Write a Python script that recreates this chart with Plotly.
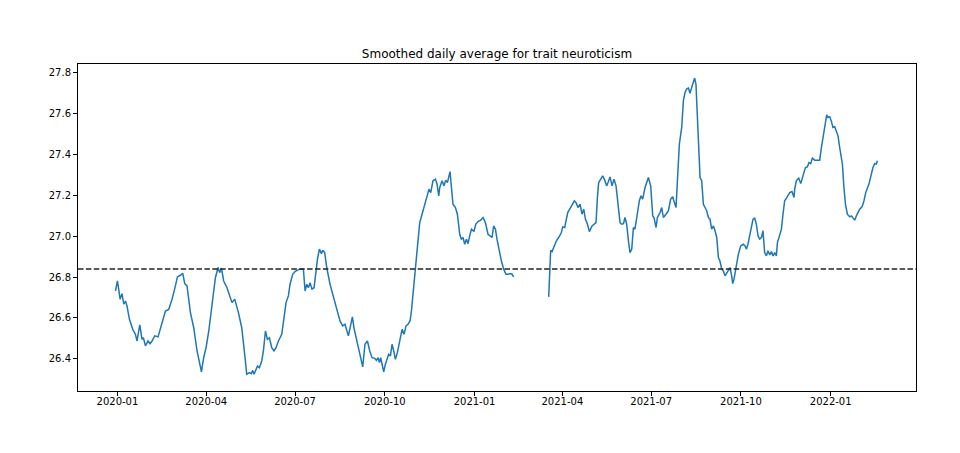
import pandas as pd
import plotly.graph_objects as go

# days since 2020-01-01
day_offset = [
    -2.0, 0.0, 1.3, 2.7, 4.7, 6.5, 8.2, 9.8, 12.3, 15.7, 18.4, 20.1, 22.9, 25.2, 26.6, 28.7,
    31.4, 33.4, 35.5, 38.2, 41.6, 45.7, 49.2, 52.6, 56.0, 59.4, 61.5, 64.6, 66.9, 69.0, 71.3,
    74.8, 78.2, 81.6, 84.0, 86.1, 88.4, 90.8, 93.6, 96.9, 100.4, 103.1, 104.8, 106.6, 108.9,
    112.3, 114.8, 117.4, 120.2, 122.6,
    124.0, 127.4, 129.1, 130.8, 132.5, 135.3, 137.3, 138.7, 140.0, 141.7, 143.5, 145.5, 147.9,
    149.6, 151.7, 153.7, 155.8, 158.1, 160.5, 162.5, 165.0, 168.4, 170.1, 172.8, 175.2, 176.9,
    179.6, 182.0, 184.5, 187.1, 190.6, 192.3, 194.0, 195.7, 197.4, 199.4, 201.5, 203.2, 205.0,
    207.0, 209.1, 210.4, 212.4, 214.5, 217.9, 222.0, 224.7, 228.1, 230.9, 233.2, 236.7, 238.4,
    240.8, 242.5, 245.2, 247.0, 249.3, 251.4, 253.7,
    256.2, 258.6, 260.9, 263.7, 265.4, 267.1, 268.5, 269.8, 271.2, 272.9, 274.6, 276.7, 278.0,
    279.8, 281.4, 283.2, 284.9, 286.9, 289.3, 291.7, 293.7, 295.8, 297.8, 299.9, 301.3, 302.9,
    304.7, 306.4, 308.1, 309.8, 312.2, 314.9, 317.7, 319.3, 321.1, 323.4, 325.9, 327.5, 329.3,
    330.3, 332.7, 334.7, 336.4, 338.2, 339.8, 340.9, 342.3, 343.9, 346.4, 348.4, 350.8, 352.5,
    354.2, 355.9, 357.7, 359.3, 361.0, 362.8, 365.4, 367.2, 369.5, 372.3, 374.7, 377.1, 379.8,
    382.3, 383.9, 385.6, 387.4, 389.0, 391.5, 393.5, 395.9, 398.2, 400.3, 402.7, 404.4, 406.1,
    424.0,
    442.0, 444.0, 445.4, 447.4, 449.9, 452.2, 455.0, 456.3, 458.4, 460.1, 461.5, 463.5, 465.9,
    468.3, 470.0, 472.0, 474.1, 476.1, 477.9, 479.6, 481.7, 483.7, 486.4, 489.1, 490.5, 491.9,
    493.2, 495.3, 497.3, 499.4, 501.4, 502.8, 504.8, 506.9, 508.9, 511.0, 513.0, 515.1, 516.8,
    518.6, 520.2, 521.9, 523.7, 525.3, 527.1, 528.8, 530.4, 532.2, 534.9, 536.6, 538.3, 540.7,
    544.2, 546.5, 548.6, 549.9, 552.0, 553.4, 556.1, 557.8, 559.5, 562.2, 564.7, 567.0, 569.1,
    570.8, 572.5, 573.9, 575.9, 578.3, 580.0, 581.7, 583.4, 585.2, 586.8, 588.5, 590.3, 591.6,
    592.9, 594.4, 595.7, 597.1, 598.8, 600.5, 602.2, 603.9, 605.7, 607.3, 609.0, 610.8, 612.4,
    614.2, 615.9, 617.5, 619.3, 621.0, 622.7, 624.4, 626.1, 627.8, 629.5, 630.6, 631.9, 633.9,
    636.4, 638.8, 641.5, 643.2, 644.6, 646.2, 648.0, 649.7, 651.4, 653.1, 654.8, 656.5, 658.2,
    660.0, 661.6, 663.3, 665.1, 666.7, 668.5, 670.2, 671.9, 673.6, 675.3, 676.4, 678.0, 680.5,
    682.1, 683.8, 685.6, 687.2, 689.0, 691.3, 693.4, 694.1, 695.8, 698.2, 700.3, 702.6, 705.1,
    707.1, 708.7, 710.5, 712.2, 714.6, 717.4, 719.7, 721.5, 723.1, 724.8, 726.9, 728.2, 730.0,
    731.7, 733.3, 735.1, 736.8, 738.5, 740.2, 742.0, 743.0, 744.3, 746.1, 748.1, 750.5, 752.2,
    753.8, 755.6, 757.3, 758.9, 760.7, 763.1, 765.1, 766.9, 768.6, 770.2, 772.0, 774.3, 776.1,
    777.8, 778.8,
]

neuroticism = [
    26.732, 26.781, 26.741, 26.692, 26.719, 26.667, 26.683, 26.659, 26.593, 26.544, 26.520, 26.487,
    26.566, 26.495, 26.503, 26.463, 26.487, 26.474, 26.487, 26.512, 26.507, 26.577, 26.634, 26.642,
    26.692, 26.757, 26.801, 26.809, 26.819, 26.768, 26.757, 26.626, 26.552, 26.438, 26.381, 26.336,
    26.405, 26.454, 26.536, 26.650, 26.797, 26.847, 26.822, 26.844, 26.781, 26.748, 26.716, 26.675,
    26.692, 26.650,
    26.626, 26.552, 26.487, 26.405, 26.324, 26.332, 26.327, 26.343, 26.324, 26.343, 26.364, 26.356,
    26.389, 26.438, 26.536, 26.495, 26.503, 26.454, 26.438, 26.454, 26.487, 26.520, 26.577, 26.675,
    26.708, 26.765, 26.814, 26.827, 26.834, 26.839, 26.839, 26.732, 26.765, 26.748, 26.773, 26.741,
    26.748, 26.830, 26.888, 26.937, 26.915, 26.932, 26.920, 26.847, 26.765, 26.692, 26.650, 26.585,
    26.561, 26.569, 26.512, 26.552, 26.605, 26.549, 26.495, 26.454, 26.414, 26.360, 26.471,
    26.487, 26.438, 26.405, 26.402, 26.392, 26.405, 26.381, 26.405, 26.373, 26.336, 26.373, 26.405,
    26.422, 26.414, 26.471, 26.438, 26.397, 26.430, 26.479, 26.544, 26.520, 26.561, 26.569, 26.585,
    26.634, 26.716, 26.830, 26.879, 26.978, 27.067, 27.108, 27.157, 27.206, 27.231, 27.214, 27.272,
    27.280, 27.256, 27.198, 27.239, 27.272, 27.247, 27.275, 27.263, 27.296, 27.317, 27.239, 27.157,
    27.141, 27.108, 27.010, 26.986, 26.994, 26.961, 26.986, 26.964, 27.002, 27.035, 27.023, 27.059,
    27.072, 27.079, 27.092, 27.067, 27.010, 27.002, 26.994, 27.051, 27.035, 26.986, 26.920, 26.879,
    26.839, 26.814, 26.814, 26.817, 26.814, 26.801,
    None,
    26.703, 26.932, 26.925, 26.953, 26.978, 26.994, 27.018, 27.046, 27.043, 27.084, 27.116, 27.133,
    27.154, 27.174, 27.165, 27.141, 27.157, 27.108, 27.133, 27.084, 27.059, 27.023, 27.051, 27.059,
    27.067, 27.190, 27.263, 27.280, 27.296, 27.275, 27.247, 27.263, 27.291, 27.247, 27.280, 27.247,
    27.157, 27.067, 27.059, 27.062, 27.092, 27.059, 26.978, 26.920, 26.937, 27.043, 27.035, 27.092,
    27.174, 27.198, 27.182, 27.239, 27.288, 27.247, 27.100, 27.092, 27.043, 27.092, 27.116, 27.141,
    27.092, 27.108, 27.125, 27.182, 27.194, 27.165, 27.141, 27.272, 27.452, 27.533, 27.664, 27.705,
    27.722, 27.726, 27.700, 27.729, 27.754, 27.775, 27.746, 27.582, 27.419, 27.288, 27.272, 27.157,
    27.141, 27.125, 27.092, 27.084, 27.035, 27.051, 27.027, 26.994, 26.896, 26.879, 26.839, 26.830,
    26.806, 26.822, 26.839, 26.847, 26.806, 26.768, 26.790, 26.847, 26.912, 26.953, 26.961, 26.953,
    26.937, 26.961, 27.010, 27.051, 27.084, 27.089, 27.059, 27.002, 26.986, 26.994, 27.027, 26.920,
    26.904, 26.929, 26.909, 26.925, 26.904, 26.920, 26.904, 26.969, 26.994, 27.035, 27.108, 27.174,
    27.187, 27.198, 27.214, 27.219, 27.190, 27.231, 27.272, 27.285, 27.258, 27.296, 27.337, 27.340,
    27.361, 27.356, 27.383, 27.373, 27.373, 27.373, 27.435, 27.484, 27.542, 27.595, 27.582, 27.586,
    27.563, 27.533, 27.537, 27.517, 27.492, 27.435, 27.378, 27.354, 27.256, 27.157, 27.108, 27.095,
    27.100, 27.092, 27.079, 27.100, 27.116, 27.133, 27.144, 27.174, 27.214, 27.236, 27.256, 27.291,
    27.337, 27.356, 27.354, 27.370,
]

overall_mean = 26.84

dates = pd.Timestamp("2020-01-01") + pd.to_timedelta(day_offset, unit="D")

fig = go.Figure()
fig.add_trace(go.Scatter(x=dates, y=neuroticism, mode="lines",
                         line=dict(color="#1f77b4", width=1.5), connectgaps=False))

# horizontal dashed line for the overall mean
fig.add_shape(type="line", xref="paper", x0=0, x1=1, yref="y", y0=overall_mean, y1=overall_mean,
              line=dict(color="#222222", width=1.5, dash="5.5px,2.4px"))

axis_style = dict(showgrid=False, zeroline=False, showline=True, mirror=True,
                  linecolor="#000000", linewidth=1, ticks="outside", ticklen=4,
                  tickwidth=1, tickcolor="#000000",
                  tickfont=dict(family="DejaVu Sans", size=10, color="#000000"))

# page body adds ~7px offset, margins compensate for it
fig.update_layout(
    width=960, height=453,
    margin=dict(l=70, r=52, t=56, b=70),
    paper_bgcolor="white", plot_bgcolor="white",
    showlegend=False,
    title=dict(text="Smoothed daily average for trait neuroticism",
               x=0.5, xref="paper", y=1 - 46 / 453, yref="container", yanchor="middle",
               font=dict(family="DejaVu Sans", size=12, color="#000000")),
)
fig.update_xaxes(axis_style, type="date", range=["2019-11-21 14:00", "2022-03-29 10:00"],
                 tick0="2020-01-01", dtick="M3", tickformat="%Y-%m", ticklabelstandoff=-3)
fig.update_yaxes(axis_style, range=[26.242, 27.844], tick0=26.4, dtick=0.2, tickformat=".1f")

fig.write_html("out.html")
